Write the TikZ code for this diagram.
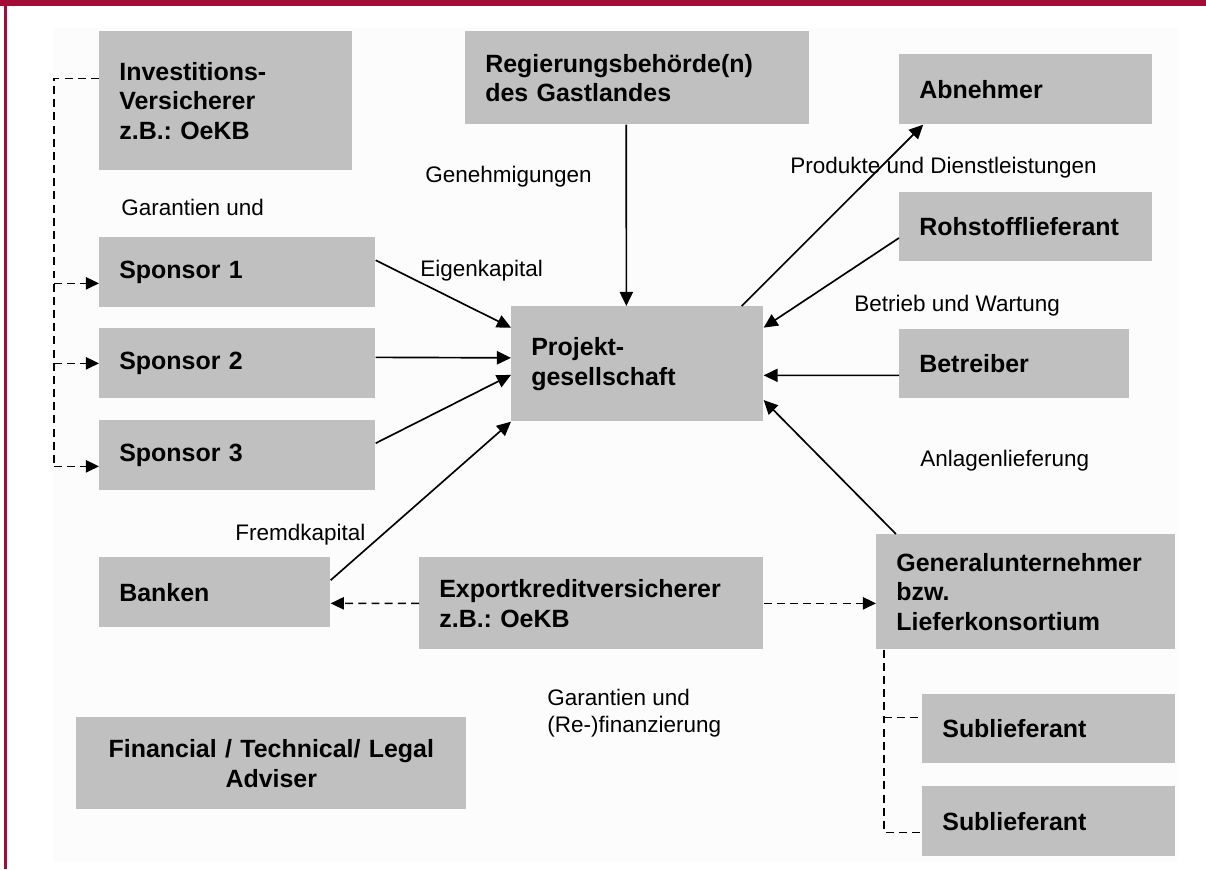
\documentclass[tikz,border=0pt]{standalone}
\usepackage{fontspec}
\setmainfont{Liberation Sans}
\frenchspacing
\usetikzlibrary{arrows.meta, calc}
\definecolor{rahmen}{RGB}{163,12,54}
\definecolor{kastengrau}{RGB}{192,192,192}
\definecolor{flaeche}{RGB}{252,252,252}
\tikzset{
    kasten/.style={fill=kastengrau, anchor=north west, inner xsep=0.4cm, inner ysep=0pt, align=left, font=\bfseries\fontsize{14.2}{16.8}\selectfont},
    beschriftung/.style={anchor=base west, inner sep=0pt, align=left, font=\fontsize{12.8}{15.3}\selectfont},
    pfeil/.style={line width=0.95pt, -{Triangle[length=8pt,width=7.5pt]}},
    strich/.style={line width=0.95pt, dash pattern=on 4.5pt off 3pt},
    strichpfeil/.style={strich, -{Triangle[length=7.5pt,width=7pt]}},
}

\begin{document}
\begin{tikzpicture}[x=0.02cm, y=-0.02cm]
\useasboundingbox (0,0) rectangle (1206,869);
% Rahmen
\fill[flaeche] (53,28) rectangle (1178,862);
\fill[rahmen] (0,0) rectangle (1206,6);
\fill[rahmen] (4,0) rectangle (7,869);
% linke Seite
\node[kasten, text width=4.26cm, minimum height=2.78cm] (inv) at (99,31) {Investitions-\\Versicherer\\z.B.: OeKB};
\node[kasten, text width=4.72cm, minimum height=1.40cm] (sp1) at (99,237) {Sponsor 1};
\node[kasten, text width=4.72cm, minimum height=1.40cm] (sp2) at (99,328) {Sponsor 2};
\node[kasten, text width=4.72cm, minimum height=1.40cm] (sp3) at (99,420) {Sponsor 3};
\node[kasten, text width=3.82cm, minimum height=1.40cm] (ban) at (99,557) {Banken};
\node[kasten, align=center, text width=7.00cm, minimum height=1.84cm] (fin) at (76,717) {Financial / Technical/ Legal\\Adviser};
% Mitte
\node[kasten, text width=6.08cm, minimum height=1.86cm] (reg) at (465,31) {Regierungsbehörde(n)\\des Gastlandes};
\node[kasten, text width=4.24cm, minimum height=2.30cm] (pg) at (511,306) {Projekt-\\gesellschaft};
\node[kasten, text width=6.08cm, minimum height=1.84cm] (exp) at (419,557) {Exportkreditversicherer\\z.B.: OeKB};
% rechte Seite
\node[kasten, text width=4.26cm, minimum height=1.40cm] (abn) at (899,54) {Abnehmer};
\node[kasten, text width=4.26cm, minimum height=1.38cm] (roh) at (899,192) {Rohstofflieferant};
\node[kasten, text width=3.80cm, minimum height=1.38cm] (bet) at (899,329) {Betreiber};
\node[kasten, text width=5.18cm, minimum height=2.30cm] (gen) at (876,534) {Generalunternehmer\\bzw.\\Lieferkonsortium};
\node[kasten, text width=4.26cm, minimum height=1.38cm] (sub1) at (922,694) {Sublieferant};
\node[kasten, text width=4.26cm, minimum height=1.40cm] (sub2) at (922,786) {Sublieferant};
% Beschriftungen
\node[beschriftung] (t1) at (121,215) {Garantien und};
\node[beschriftung] (t2) at (425,182) {Genehmigungen};
\node[beschriftung] (t3) at (420,276) {Eigenkapital};
\node[beschriftung] (t4) at (235,540) {Fremdkapital};
\node[beschriftung] (t5) at (790,173) {Produkte und Dienstleistungen};
\node[beschriftung] (t6) at (854,311) {Betrieb und Wartung};
\node[beschriftung] (t7) at (920,466) {Anlagenlieferung};
\node[beschriftung, anchor=north west] (t8) at (547,689) {Garantien und\\(Re-)finanzierung};
% Pfeile zur Projektgesellschaft
\draw[pfeil] (sp1.5) -- (pg.164);
\draw[pfeil] ([yshift=0.12cm]sp2.east) -- ([yshift=0.12cm]pg.west);
\draw[pfeil] (sp3.5) -- (pg.185);
\draw[pfeil] (ban.6) -- (pg.south west);
\draw[pfeil] ([xshift=-0.22cm]reg.south) -- ([xshift=-0.22cm]pg.north);
\draw[pfeil] (pg.29) -- (abn.199);
\draw[pfeil] (roh.185) -- (pg.16);
\draw[pfeil] ([yshift=-0.23cm]bet.west) -- ([yshift=-0.23cm]pg.east);
\draw[pfeil] (gen.156) -- (pg.-16);
% Investitionsversicherer
\coordinate (ik) at ([xshift=-0.9cm, yshift=0.45cm]inv.west);
\coordinate (s1) at ([yshift=-0.22cm]sp1.west);
\coordinate (s3) at ([yshift=-0.22cm]sp3.west);
\draw[strich] ([yshift=0.45cm]inv.west) -- (ik) -- (ik |- s3);
\foreach \z in {s1, sp2.west, s3}
    \draw[strichpfeil] (ik |- \z) -- (\z);
% Exportkreditversicherer
\draw[strichpfeil] (exp.west) -- ([yshift=-0.22cm]ban.east);
\draw[strichpfeil] (exp.east) -- (exp.east -| gen.west);
% Sublieferanten
\coordinate (gk) at ([xshift=0.16cm]gen.south west);
\coordinate (u1) at ([yshift=0.23cm]sub1.west);
\coordinate (u2) at ([yshift=-0.22cm]sub2.west);
\draw[strich] (gk) -- (gk |- u2) -- (u2);
\draw[strich] (gk |- u1) -- (u1);
\end{tikzpicture}
\end{document}
